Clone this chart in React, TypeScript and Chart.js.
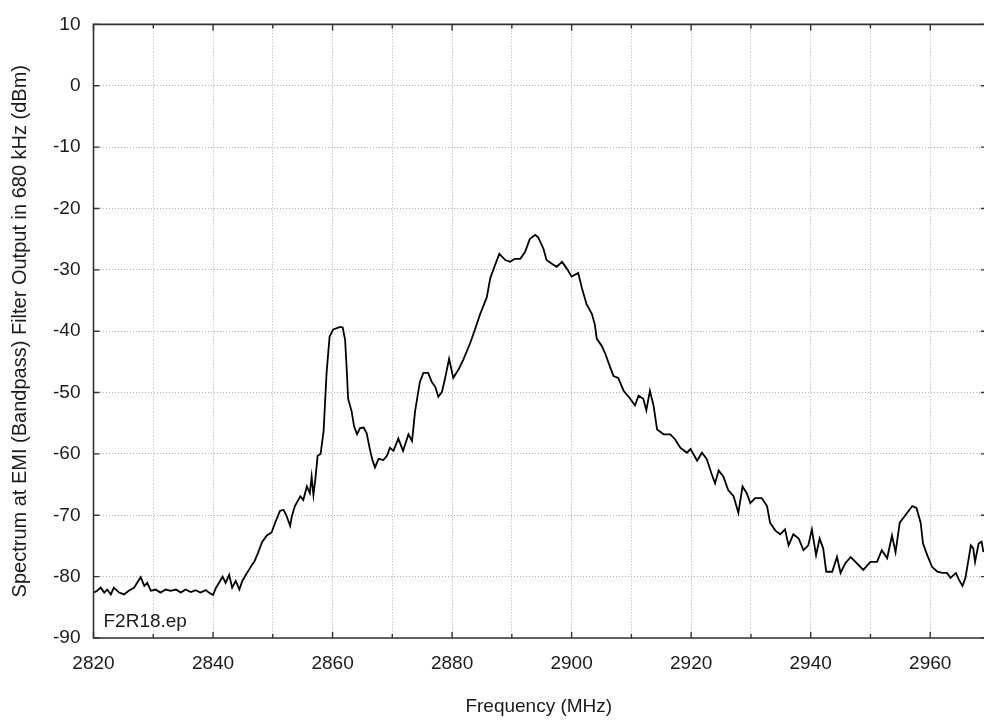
import React, { useEffect, useRef } from "react";
import { Chart, registerables } from "chart.js";

Chart.register(...registerables);

const FREQS: number[] = [
  2820.1, 2820.6, 2821.2, 2821.8, 2822.3, 2822.9, 2823.4, 2824.3, 2825.1, 2825.9,
  2826.8, 2827.3, 2827.9, 2828.5, 2829.0, 2829.6, 2830.4, 2831.2, 2832.1, 2832.9,
  2833.8, 2834.6, 2835.4, 2836.3, 2837.1, 2837.9, 2838.8, 2839.3, 2840.0, 2840.5,
  2841.0, 2841.6, 2842.1, 2842.7, 2843.2, 2843.8, 2844.4, 2844.9, 2845.5, 2846.0,
  2846.5, 2846.9, 2847.5, 2848.2, 2849.0, 2849.8, 2850.4, 2851.2, 2851.8, 2852.3,
  2852.9, 2853.2, 2853.7, 2854.6, 2855.1, 2855.7, 2856.2, 2856.5, 2856.8, 2857.1,
  2857.5, 2858.0, 2858.5, 2859.0, 2859.5, 2860.1, 2861.3, 2861.7, 2862.1, 2862.4,
  2862.6, 2863.2, 2863.6, 2864.1, 2864.6, 2865.2, 2865.7, 2866.3, 2866.7, 2867.1,
  2867.7, 2868.5, 2869.1, 2869.6, 2870.2, 2871.0, 2871.8, 2872.7, 2873.3, 2873.8,
  2874.6, 2875.2, 2876.0, 2876.6, 2877.2, 2877.7, 2878.3, 2878.8, 2879.5, 2880.2,
  2881.1, 2881.9, 2883.0, 2883.8, 2884.7, 2885.8, 2886.4, 2887.2, 2887.9, 2888.9,
  2889.7, 2890.5, 2891.4, 2892.2, 2893.0, 2893.9, 2894.4, 2895.3, 2895.8, 2896.7,
  2897.5, 2898.4, 2899.2, 2900.0, 2901.1, 2901.7, 2902.5, 2903.4, 2903.9, 2904.2,
  2905.1, 2905.6, 2906.2, 2907.0, 2907.8, 2908.7, 2909.8, 2910.6, 2911.2, 2912.0,
  2912.5, 2913.1, 2913.7, 2914.3, 2915.4, 2916.5, 2917.3, 2918.2, 2919.3, 2919.9,
  2921.0, 2921.8, 2922.6, 2923.4, 2924.0, 2924.6, 2925.4, 2926.2, 2927.1, 2927.9,
  2928.6, 2929.3, 2929.9, 2930.7, 2931.8, 2932.7, 2933.2, 2934.1, 2934.9, 2935.7,
  2936.3, 2937.1, 2938.0, 2938.8, 2939.6, 2940.2, 2940.9, 2941.5, 2942.1, 2942.6,
  2943.6, 2944.4, 2945.0, 2945.8, 2946.7, 2947.7, 2948.8, 2950.0, 2951.1, 2951.9,
  2952.8, 2953.6, 2954.2, 2954.9, 2955.9, 2957.0, 2957.7, 2958.4, 2958.8, 2959.5,
  2960.3, 2961.2, 2962.0, 2962.8, 2963.4, 2964.3, 2964.8, 2965.4, 2965.9, 2966.8,
  2967.2, 2967.5, 2968.1, 2968.6, 2968.9,
];

const LEVELS: number[] = [
  -82.6, -82.3, -81.8, -82.6, -82.1, -82.9, -81.8, -82.6, -82.9, -82.3,
  -81.8, -81.0, -80.1, -81.5, -81.0, -82.3, -82.1, -82.6, -82.1, -82.3,
  -82.1, -82.6, -82.1, -82.5, -82.2, -82.6, -82.2, -82.6, -83.0, -81.8,
  -81.0, -80.0, -81.0, -79.7, -81.8, -80.7, -82.1, -80.7, -79.7, -78.9,
  -78.1, -77.6, -76.2, -74.4, -73.3, -72.8, -71.2, -69.3, -69.1, -70.1,
  -71.7, -70.1, -68.5, -66.9, -67.5, -65.3, -66.4, -63.7, -66.7, -64.3,
  -60.3, -60.0, -56.3, -46.8, -40.9, -39.7, -39.3, -39.4, -41.4, -46.8,
  -51.0, -53.1, -55.5, -56.8, -55.8, -55.7, -56.6, -59.5, -61.1, -62.2,
  -60.8, -61.0, -60.3, -59.0, -59.5, -57.5, -59.5, -56.8, -57.9, -53.1,
  -48.3, -46.8, -46.8, -48.3, -49.1, -50.7, -49.9, -47.8, -44.5, -47.6,
  -46.2, -44.6, -42.0, -39.8, -37.2, -34.5, -31.3, -29.2, -27.4, -28.4,
  -28.7, -28.2, -28.2, -27.1, -25.0, -24.3, -24.7, -26.6, -28.4, -29.0,
  -29.5, -28.7, -29.8, -31.1, -30.5, -32.9, -35.6, -37.2, -39.0, -41.2,
  -42.5, -43.6, -45.2, -47.3, -47.6, -49.7, -51.0, -52.1, -50.5, -51.0,
  -52.9, -49.7, -52.1, -56.0, -56.8, -56.8, -57.6, -59.0, -59.8, -59.2,
  -61.1, -59.8, -60.8, -63.2, -64.8, -62.7, -63.7, -65.9, -66.9, -69.6,
  -65.3, -66.4, -68.0, -67.2, -67.2, -68.5, -71.2, -72.5, -73.1, -72.3,
  -74.9, -73.1, -73.8, -75.7, -74.9, -72.3, -76.5, -73.8, -75.4, -79.2,
  -79.2, -76.8, -79.4, -77.8, -76.8, -77.8, -78.9, -77.6, -77.6, -75.7,
  -77.0, -73.3, -76.0, -71.2, -69.9, -68.5, -68.8, -71.2, -74.6, -76.5,
  -78.4, -79.2, -79.4, -79.4, -80.2, -79.4, -80.5, -81.5, -80.2, -74.9,
  -75.4, -77.6, -74.6, -74.3, -76.0,
];

const X_TICKS: number[] = [2820, 2830, 2840, 2850, 2860, 2870, 2880, 2890, 2900, 2910, 2920, 2930, 2940, 2950, 2960];
const Y_TICKS: number[] = [10, 0, -10, -20, -30, -40, -50, -60, -70, -80, -90];
const X_MIN = 2820;
const X_MAX = 2969;
const Y_MIN = -90;
const Y_MAX = 10;

const X_TITLE = "Frequency (MHz)";
const Y_TITLE = "Spectrum at EMI (Bandpass) Filter Output in 680 kHz (dBm)";
const FILE_LABEL = "F2R18.ep";

const FONT_FAMILY = "'Liberation Sans', Arial, Helvetica, sans-serif";
const FONT_SIZE = 19;
const TITLE_SIZE = 20;
const TEXT_COLOR = "#1a1a1a";
const GRID_COLOR = "#b0b0b0";
const FRAME_COLOR = "#333333";

const framePlugin = {
  id: "gnuFrame",
  beforeDraw(chart: any) {
    const { ctx, width, height } = chart;
    ctx.save();
    ctx.fillStyle = "#ffffff";
    ctx.fillRect(0, 0, width, height);
    ctx.restore();
  },
  afterDraw(chart: any) {
    const { ctx, chartArea, scales } = chart;
    const { left, top, right, bottom } = chartArea;
    const xs = scales.x;
    const ys = scales.y;
    ctx.save();
    ctx.strokeStyle = FRAME_COLOR;
    ctx.lineWidth = 1.6;
    ctx.beginPath();
    ctx.moveTo(right + 2, top);
    ctx.lineTo(left, top);
    ctx.lineTo(left, bottom);
    ctx.lineTo(right + 2, bottom);
    ctx.stroke();
    ctx.lineWidth = 1.4;
    ctx.beginPath();
    for (const v of X_TICKS) {
      const px = xs.getPixelForValue(v);
      const len = v % 20 === 0 ? 6 : 4;
      ctx.moveTo(px, bottom);
      ctx.lineTo(px, bottom - len);
      ctx.moveTo(px, top);
      ctx.lineTo(px, top + len);
    }
    for (const v of Y_TICKS) {
      const py = ys.getPixelForValue(v);
      ctx.moveTo(left, py);
      ctx.lineTo(left + 6, py);
      ctx.moveTo(right, py);
      ctx.lineTo(right - 3, py);
    }
    ctx.stroke();
    ctx.fillStyle = TEXT_COLOR;
    ctx.font = `${FONT_SIZE}px ${FONT_FAMILY}`;
    ctx.textAlign = "left";
    ctx.textBaseline = "alphabetic";
    ctx.fillText(FILE_LABEL, left + 10, bottom - 11);
    ctx.restore();
  },
};

export default function App() {
  const canvasRef = useRef<HTMLCanvasElement | null>(null);

  useEffect(() => {
    const canvas = canvasRef.current;
    if (!canvas) return;
    const points = FREQS.map((f, i) => ({ x: f, y: LEVELS[i] }));
    const tickFont = { family: FONT_FAMILY, size: FONT_SIZE };
    const titleFont = { family: FONT_FAMILY, size: TITLE_SIZE };
    const chart = new Chart(canvas, {
      type: "line",
      data: {
        datasets: [
          {
            data: points,
            borderColor: "#000000",
            borderWidth: 1.8,
            pointRadius: 0,
            tension: 0,
            fill: false,
          },
        ],
      },
      options: {
        animation: false,
        responsive: false,
        maintainAspectRatio: false,
        layout: { padding: { top: 10.5, right: 0, left: 0, bottom: 0 } },
        plugins: {
          legend: { display: false },
          tooltip: { enabled: false },
        },
        scales: {
          x: {
            type: "linear",
            min: X_MIN,
            max: X_MAX,
            afterBuildTicks: (s: any) => {
              s.ticks = X_TICKS.map((v) => ({ value: v }));
            },
            afterFit: (s: any) => {
              s.height = 85;
            },
            ticks: {
              autoSkip: false,
              maxRotation: 0,
              padding: 14,
              color: TEXT_COLOR,
              font: tickFont,
              callback: (v: any) => (Number(v) % 20 === 0 ? String(v) : ""),
            },
            grid: { color: GRID_COLOR, lineWidth: 1, drawTicks: false },
            border: { display: false, dash: [1, 2] },
            title: {
              display: true,
              text: X_TITLE,
              color: TEXT_COLOR,
              font: tickFont,
              padding: { top: 0, bottom: 5 },
            },
          },
          y: {
            type: "linear",
            min: Y_MIN,
            max: Y_MAX,
            afterBuildTicks: (s: any) => {
              s.ticks = Y_TICKS.map((v) => ({ value: v }));
            },
            afterFit: (s: any) => {
              s.width = 93.5;
            },
            ticks: {
              autoSkip: false,
              padding: 13,
              color: TEXT_COLOR,
              font: tickFont,
              callback: (v: any) => String(v),
            },
            grid: { color: GRID_COLOR, lineWidth: 1, drawTicks: false },
            border: { display: false, dash: [1, 2] },
            title: {
              display: true,
              text: Y_TITLE,
              color: TEXT_COLOR,
              font: titleFont,
              padding: { top: 8, bottom: 0 },
            },
          },
        },
      },
      plugins: [framePlugin],
    } as any);
    return () => chart.destroy();
  }, []);

  return (
    <div style={{ position: "absolute", left: 0, top: 0, width: 984, height: 723, background: "#fff" }}>
      <canvas ref={canvasRef} width={984} height={723} style={{ width: 984, height: 723, display: "block" }} />
    </div>
  );
}
